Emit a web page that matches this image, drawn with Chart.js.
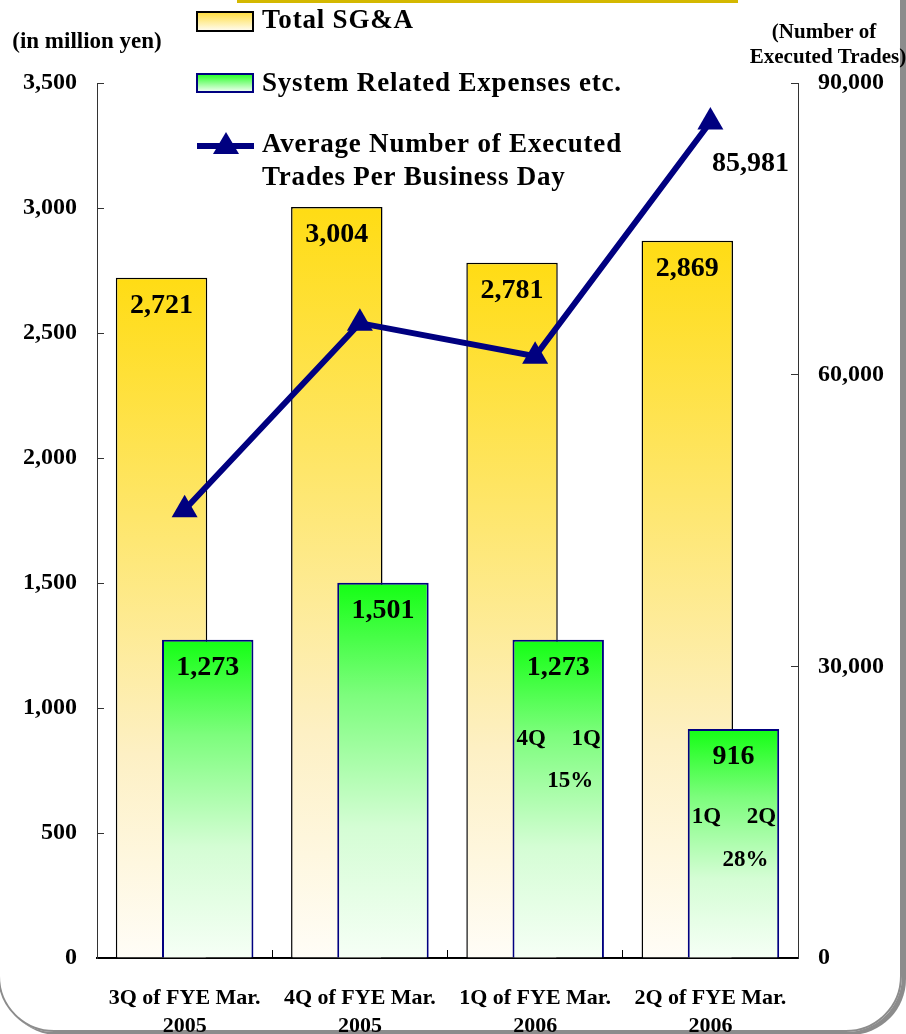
<!DOCTYPE html>
<html>
<head>
<meta charset="utf-8">
<script src="https://cdn.jsdelivr.net/npm/chart.js@4.4.1/dist/chart.umd.min.js"></script>
<style>
  html, body { margin: 0; padding: 0; background: #fff; overflow: hidden; }
  #wrap { position: relative; width: 906px; height: 1034px; }
  #frame {
    position: absolute; left: -2px; top: -80px; width: 900px; height: 1108px;
    border: 2px solid #8c8c8c; border-radius: 56px;
    box-shadow: 4px 3px 0 #8c8c8c;
  }
  #topline { position: absolute; left: 237px; top: 0; width: 501px; height: 3px; background: #d4b800; }
  canvas { position: absolute; left: 0; top: 0; }
</style>
</head>
<body>
<div id="wrap">
  <div id="frame"></div>
  <div id="topline"></div>
  <canvas id="sgaChart" width="906" height="1034"></canvas>
</div>
<script>
// Quarterly SG&A, system related expenses and executed trades

const quarters = [
    ["3Q of FYE Mar.", "2005"],
    ["4Q of FYE Mar.", "2005"],
    ["1Q of FYE Mar.", "2006"],
    ["2Q of FYE Mar.", "2006"]
];

const totalSGA = [2721, 3004, 2781, 2869];

const systemExpenses = [1273, 1501, 1273, 916];

const avgTrades = [46100, 65300, 61900, 85981];

// only the latest trade count gets a label
const labelledTradeIndex = 3;

// quarter-on-quarter notes written inside the green bars
const qoqNotes = [null, null, ["4Q", "1Q", "15%"], ["1Q", "2Q", "28%"]];


const SERIF = "'Liberation Serif', 'Times New Roman', serif";
const NAVY = "#000080";

function fmt(v) {
    return v.toLocaleString("en-US");
}

// vertical fill running from the bar top down to the baseline
function barFill(ctx, stops) {
    const chart = ctx.chart;
    const y = chart.scales.y;
    if (ctx.type !== "data" || !y || !chart.chartArea) return stops[0][1];
    const top = y.getPixelForValue(ctx.raw);
    const bottom = y.getPixelForValue(0);
    const g = chart.ctx.createLinearGradient(0, top, 0, bottom);
    stops.forEach(s => g.addColorStop(s[0], s[1]));
    return g;
}

const yellowStops = [[0, "#ffdc14"], [0.35, "#fee66a"], [0.7, "#fdf0c4"], [1, "#fffdf7"]];
const greenStops = [[0, "#14ff14"], [0.3, "#7dfd7d"], [0.65, "#d4fdd4"], [1, "#f6fff6"]];


// draw the green bars after the yellow ones so they overlap on the right
const barOverlap = {
    id: "barOverlap",
    beforeDatasetDraw(chart, args) {
        if (args.index === 1) return false;
    },
    afterDatasetDraw(chart, args) {
        if (args.index === 0) {
            chart.getDatasetMeta(1).controller.draw();
        }
    }
};


// value labels, notes, unit captions and the legend
const annotations = {
    id: "annotations",
    afterDraw(chart) {
        const c = chart.ctx;
        c.save();
        c.fillStyle = "#000";
        c.textAlign = "center";
        c.textBaseline = "middle";

        // bar values
        c.font = "bold 28px " + SERIF;
        [0, 1].forEach(i => {
            const meta = chart.getDatasetMeta(i);
            meta.data.forEach((bar, j) => {
                c.fillText(fmt(chart.data.datasets[i].data[j]), bar.x, bar.y + 28);
            });
        });

        // latest trades value
        const pt = chart.getDatasetMeta(2).data[labelledTradeIndex];
        c.fillText(fmt(avgTrades[labelledTradeIndex]), pt.x + 40, pt.y + 42);

        // quarter-on-quarter notes
        const noteRows = [null, null, [99, 141], [88, 131]];
        const greenMeta = chart.getDatasetMeta(1);
        c.font = "bold 23px " + SERIF;
        qoqNotes.forEach((note, j) => {
            if (!note) return;
            const bar = greenMeta.data[j];
            c.fillText(note[0], bar.x - 27, bar.y + noteRows[j][0]);
            c.fillText(note[1], bar.x + 28, bar.y + noteRows[j][0]);
            c.fillText(note[2], bar.x + 12, bar.y + noteRows[j][1]);
        });

        // unit captions
        c.font = "bold 23px " + SERIF;
        c.fillText("(in million yen)", 87, 42);
        c.font = "bold 21px " + SERIF;
        c.fillText("(Number of", 824, 33);
        c.fillText("Executed Trades)", 828, 58);

        // legend
        const ds = chart.data.datasets;
        c.textAlign = "left";
        c.font = "bold 27px " + SERIF;
        c.letterSpacing = "0.8px";

        let g = c.createLinearGradient(0, 12, 0, 31);
        g.addColorStop(0, "#ffdc3c");
        g.addColorStop(1, "#fffdf5");
        c.fillStyle = g;
        c.fillRect(197, 12, 56, 19);
        c.strokeStyle = "#000";
        c.lineWidth = 2;
        c.strokeRect(197, 12, 56, 19);
        c.fillStyle = "#000";
        c.fillText(ds[0].label, 262, 21);

        g = c.createLinearGradient(0, 74, 0, 92);
        g.addColorStop(0, "#22ff22");
        g.addColorStop(1, "#f5fff5");
        c.fillStyle = g;
        c.fillRect(197, 74, 56, 18);
        c.strokeStyle = NAVY;
        c.strokeRect(197, 74, 56, 18);
        c.fillStyle = "#000";
        c.fillText(ds[1].label, 262, 84);

        c.strokeStyle = NAVY;
        c.lineWidth = 6;
        c.beginPath();
        c.moveTo(197, 146);
        c.lineTo(254, 146);
        c.stroke();
        c.fillStyle = NAVY;
        c.beginPath();
        c.moveTo(226, 132);
        c.lineTo(239, 154);
        c.lineTo(213, 154);
        c.closePath();
        c.fill();
        c.fillStyle = "#000";
        ds[2].label.forEach((line, k) => c.fillText(line, 262, 145 + k * 33));

        c.restore();
    }
};


new Chart(document.getElementById("sgaChart"), {

    type: "bar",

    data: {

        labels: quarters,

        datasets: [
            {
                label: "Total SG&A",
                data: totalSGA,
                order: 2,
                backgroundColor: ctx => barFill(ctx, yellowStops),
                borderColor: "#000",
                borderWidth: 1.5,
                categoryPercentage: 0.527,
                barPercentage: 1.98
            },
            {
                label: "System Related Expenses etc.",
                data: systemExpenses,
                order: 3,
                backgroundColor: ctx => barFill(ctx, greenStops),
                borderColor: NAVY,
                borderWidth: 2,
                categoryPercentage: 0.527,
                barPercentage: 1.98
            },
            {
                type: "line",
                label: ["Average Number of Executed", "Trades Per Business Day"],
                data: avgTrades,
                yAxisID: "y1",
                order: 1,
                borderColor: NAVY,
                borderWidth: 6,
                tension: 0,
                pointStyle: "triangle",
                pointRadius: 15,
                pointBackgroundColor: NAVY,
                pointBorderColor: NAVY,
                pointBorderWidth: 0
            }
        ]
    },

    options: {
        responsive: false,
        animation: false,
        devicePixelRatio: 1,
        layout: { padding: { top: 83, left: 0, right: 0, bottom: 0 } },
        plugins: {
            legend: { display: false },
            tooltip: { enabled: false }
        },
        scales: {
            x: {
                afterFit: s => { s.height = 76; },
                border: { color: "#000", width: 2 },
                grid: { drawOnChartArea: false, tickLength: -8, color: "#000", offset: true },
                ticks: {
                    color: "#000",
                    padding: 34,
                    font: { family: SERIF, weight: "bold", size: 22, lineHeight: 1.28 }
                }
            },
            y: {
                position: "left",
                min: 0,
                max: 3500,
                afterFit: s => { s.width = 97; },
                border: { color: "#333", width: 1 },
                grid: { drawOnChartArea: false, tickLength: -7, color: "#333" },
                ticks: {
                    stepSize: 500,
                    color: "#000",
                    padding: 27,
                    font: { family: SERIF, weight: "bold", size: 24 },
                    callback: v => fmt(v)
                }
            },
            y1: {
                position: "right",
                min: 0,
                max: 90000,
                afterFit: s => { s.width = 108; },
                border: { color: "#333", width: 1 },
                grid: { drawOnChartArea: false, tickLength: -7, color: "#333" },
                ticks: {
                    stepSize: 30000,
                    color: "#000",
                    padding: 27,
                    font: { family: SERIF, weight: "bold", size: 24 },
                    callback: v => fmt(v)
                }
            }
        }
    },

    plugins: [barOverlap, annotations]

});
</script>
</body>
</html>
